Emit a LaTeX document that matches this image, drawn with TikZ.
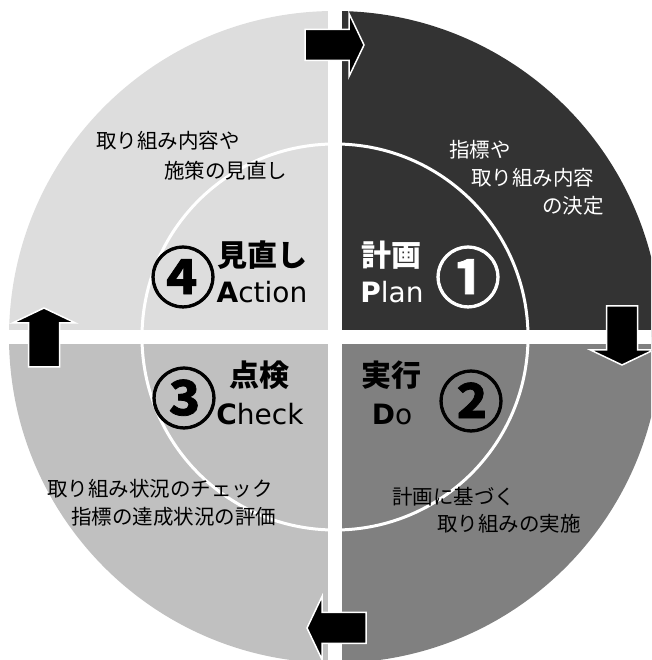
\documentclass[tikz,border=0pt]{standalone}
\usepackage{fontspec}
\newfontfamily\jp{Noto Sans CJK JP}
\newfontfamily\jpcirc[FakeBold=1.2]{Noto Sans CJK JP Bold}
\newfontfamily\lat{DejaVu Sans}
\definecolor{qtr}{HTML}{333333}
\definecolor{qtl}{HTML}{DDDDDD}
\definecolor{qbl}{HTML}{C0C0C0}
\definecolor{qbr}{HTML}{808080}
\tikzset{
  small/.style={inner sep=0pt, anchor=west, font=\jp\fontsize{20.5}{24}\selectfont},
  bigjp/.style={inner sep=0pt, font=\jp\bfseries\fontsize{30}{34}\selectfont},
  biglat/.style={inner sep=0pt, anchor=base, font=\lat\fontsize{28}{32}\selectfont},
  circnum/.style={inner sep=0pt, font=\jpcirc\fontsize{66}{72}\selectfont},
  blockarrow/.pic={
    \filldraw[fill=black, draw=white, line width=1.5pt, line join=miter]
      (0,-15.5) -- (44,-15.5) -- (44,-31.5) -- (59,0) -- (44,31.5) -- (44,15.5) -- (0,15.5) -- cycle;
  }
}
\begin{document}
\begin{tikzpicture}[x=1pt,y=1pt]
\useasboundingbox (0,0) rectangle (651,660);
\clip (0,0) rectangle (651,660);
\coordinate (C) at (335,323);
% quadrants
\fill[qtr] (C) -- ++(0:326) arc[start angle=0, end angle=90, radius=326] -- cycle;
\fill[qtl] (C) -- ++(90:326) arc[start angle=90, end angle=180, radius=326] -- cycle;
\fill[qbl] (C) -- ++(180:326) arc[start angle=180, end angle=270, radius=326] -- cycle;
\fill[qbr] (C) -- ++(270:326) arc[start angle=270, end angle=360, radius=326] -- cycle;
% white cross
\fill[white] (328,0) rectangle (342,660);
\fill[white] (0,316) rectangle (651,330);
% inner circle
\draw[white, line width=3pt] (C) circle[radius=193];
% arrows
\pic at (305,615) {blockarrow};
\pic[rotate=-90] at (622,354) {blockarrow};
\pic[rotate=180] at (366,32) {blockarrow};
\pic[rotate=90] at (44,293) {blockarrow};
% big labels
\node[bigjp, text=white] (plan) at (391,405) {計画};
\node[biglat, text=white] (planen) at (392,357) {{\bfseries P}lan};
\node[circnum, text=white] (n1) at (468,383) {①};
\node[bigjp] (do) at (391,285) {実行};
\node[biglat] (doen) at (392,235) {{\bfseries D}o};
\node[circnum] (n2) at (471,259) {②};
\node[bigjp] (check) at (259,285) {点検};
\node[biglat] (checken) at (260,235) {{\bfseries C}heck};
\node[circnum] (n3) at (184,262) {③};
\node[bigjp] (act) at (262,405) {見直し};
\node[biglat] (acten) at (262,357) {{\bfseries A}ction};
\node[circnum] (n4) at (183,383) {④};
% small texts
\node[small] (tl1) at (96,519) {取り組み内容や};
\node[small] (tl2) at (164,489) {施策の見直し};
\node[small, text=white] (tr1) at (449,510) {指標や};
\node[small, text=white] (tr2) at (471,482) {取り組み内容};
\node[small, text=white] (tr3) at (542,454) {の決定};
\node[small] (bl1) at (47,171) {取り組み状況のチェック};
\node[small] (bl2) at (71,143) {指標の達成状況の評価};
\node[small] (br1) at (392,163) {計画に基づく};
\node[small] (br2) at (437,136) {取り組みの実施};
\end{tikzpicture}
\end{document}
